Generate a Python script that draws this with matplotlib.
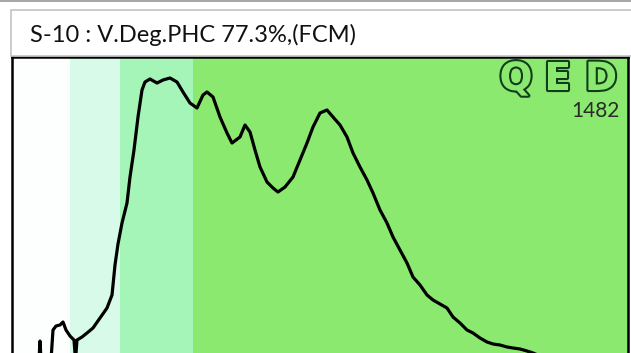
import matplotlib
matplotlib.use("Agg")
import matplotlib.pyplot as plt
import matplotlib.patheffects as pe
from matplotlib.patches import Rectangle
from matplotlib.transforms import IdentityTransform

# Chromatogram trace (arbitrary retention / response units)
retention = [27, 28, 29, 39, 41, 44, 48, 51, 54, 58, 62, 63.5, 65, 70, 75, 81,
             88, 95, 100, 103, 106, 110, 115, 118, 122, 126, 130, 133, 138, 145,
             151, 158, 165, 171, 178, 185, 191, 195, 201, 208, 215, 220, 228, 233,
             238, 243, 248, 255, 261, 266, 273, 281, 288, 295, 301, 308, 315, 321,
             328, 335, 341, 348, 355, 361, 368, 375, 381, 388, 395, 401, 408, 415,
             421, 428, 435, 441, 448, 455, 461, 468, 475, 481, 488, 495, 501, 508,
             515, 521, 528, 538]
response = [-3, 16, -3, -3, 27, 31, 32, 35, 27, 21, 17, -3, 17, 20, 24, 29,
            39, 49, 62, 92, 113, 134, 154, 180, 207, 240, 267, 275, 278, 274,
            277, 279, 275, 265, 254, 249, 262, 265, 260, 240, 224, 214, 220, 232,
            225, 207, 190, 175, 169, 165, 170, 180, 197, 214, 230, 244, 247, 240,
            232, 220, 204, 190, 177, 164, 147, 134, 120, 107, 94, 80, 72, 62,
            57, 53, 49, 40, 34, 27, 24, 19, 15, 13, 12, 10, 9, 8, 6, 4, 1, -3]

# Boiling-range bands shaded behind the trace
band_edges = [0, 58, 108, 181, 616]
band_colors = ["#fdfefe", "#d8fbe9", "#a4f5b7", "#8be96f"]

title = "S-10 : V.Deg.PHC 77.3%,(FCM)"
brand = "QED"
sample_id = "1482"

W, H = 631, 353
fig = plt.figure(figsize=(W / 100, H / 100), dpi=100)
fig.patch.set_facecolor("white")

# thin grey rule along the top edge
fig.add_artist(Rectangle((0, H - 2), W, 2, transform=IdentityTransform(),
                         facecolor="#a8a8a8", edgecolor="none"))
# title box
fig.add_artist(Rectangle((11, H - 56), W, 46, transform=IdentityTransform(),
                         facecolor="white", edgecolor="#c4c4c4", linewidth=1.2))
fig.text(30 / W, (H - 42) / H, title, fontsize=17, family="Lato",
         color="#111111", ha="left", va="baseline")

# plot area: top at y=57 px, bottom runs past the lower edge
ax_left, ax_right, ax_top, ax_bottom = 12, 628, 57, 357
ax = fig.add_axes([ax_left / W, (H - ax_bottom) / H,
                   (ax_right - ax_left) / W, (ax_bottom - ax_top) / H])
ax.set_xlim(0, 616)
ax.set_ylim(0, 300)
for lo, hi, c in zip(band_edges[:-1], band_edges[1:], band_colors):
    ax.axvspan(lo, hi, color=c, linewidth=0, zorder=0)
ax.plot(retention, response, color="black", linewidth=2.3, zorder=3,
        solid_joinstyle="round")
ax.set_xticks([])
ax.set_yticks([])
for s in ax.spines.values():
    s.set_color("black")
    s.set_linewidth(1.8)

# outlined brand letters across the upper right corner
outline = [pe.withStroke(linewidth=3.0, foreground="#123d1c")]
for ch, cx in zip(brand, [516, 558, 601]):
    fig.text(cx / W, (H - 90) / H, ch, fontsize=28, family="DejaVu Sans",
             weight="bold", color="#8be96f", ha="center", va="baseline",
             path_effects=outline)
fig.text(620 / W, (H - 117) / H, sample_id, fontsize=15, family="Lato",
         color="#2a2a2a", ha="right", va="baseline")

fig.savefig("out.png", dpi=100)
